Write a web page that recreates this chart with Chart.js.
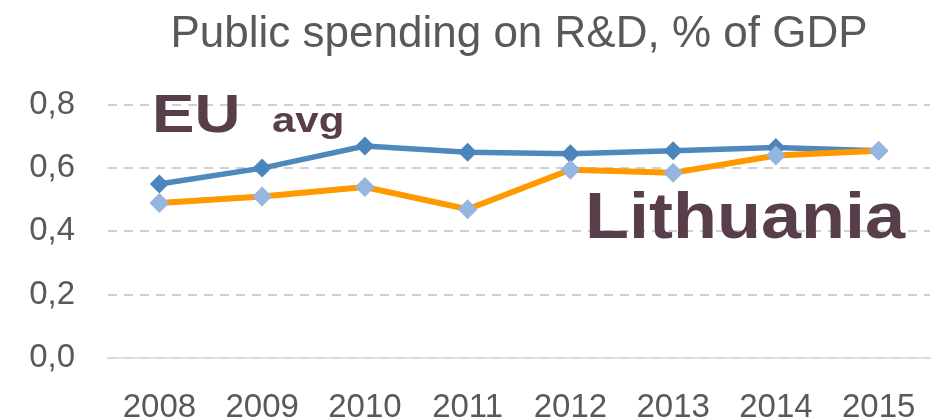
<!DOCTYPE html>
<html>
<head>
<meta charset="utf-8">
<script src="https://cdn.jsdelivr.net/npm/chart.js@4/dist/chart.umd.min.js"></script>
<style>
    html, body { margin: 0; padding: 0; background: #fff; overflow: hidden; }
    #wrap { width: 940px; height: 419px; }
</style>
</head>
<body>
<div id="wrap"><canvas id="myChart" width="940" height="419"></canvas></div>
<script>
const years = ['2008', '2009', '2010', '2011', '2012', '2013', '2014', '2015'];
const euAvg = [0.55, 0.60, 0.67, 0.65, 0.645, 0.655, 0.665, 0.655];
const lithuania = [0.49, 0.51, 0.54, 0.47, 0.595, 0.585, 0.64, 0.655];
const yTicks = [0, 0.2, 0.4, 0.6, 0.8];

const textGray = '#595959';
const noteColor = '#573e4a';

// big labels written on the chart
const notes = [
    { text: 'EU', x: 152, y: 132, size: 53, stretch: 1.2 },
    { text: 'avg', x: 272, y: 132, size: 35, stretch: 1.2 },
    { text: 'Lithuania', x: 585, y: 238, size: 64, stretch: 1.125 }
];

const notePlugin = {
    id: 'notes',
    afterDatasetsDraw(chart) {
        const ctx = chart.ctx;
        notes.forEach(n => {
            ctx.save();
            ctx.translate(n.x, n.y);
            ctx.scale(n.stretch, 1);
            ctx.font = 'bold ' + n.size + 'px "Liberation Sans", Arial, sans-serif';
            ctx.fillStyle = noteColor;
            ctx.textBaseline = 'alphabetic';
            ctx.textAlign = 'left';
            ctx.fillText(n.text, 0, 0);
            ctx.restore();
        });
    }
};

const ctx = document.getElementById('myChart').getContext('2d');
new Chart(ctx, {
    type: 'line',
    data: {
        labels: years,
        datasets: [{
            label: 'Lithuania',
            data: lithuania,
            borderColor: '#ff9900',
            borderWidth: 6,
            pointStyle: 'rectRot',
            pointRadius: 10,
            pointBackgroundColor: '#95b7df',
            pointBorderWidth: 0,
            tension: 0
        }, {
            label: 'EU avg',
            data: euAvg,
            borderColor: '#4e88bc',
            borderWidth: 5.5,
            pointStyle: 'rectRot',
            pointRadius: 9.5,
            pointBackgroundColor: '#4a86bb',
            pointBorderWidth: 0,
            tension: 0
        }]
    },
    options: {
        responsive: false,
        animation: false,
        layout: { padding: 0 },
        plugins: {
            legend: { display: false },
            tooltip: { enabled: false },
            title: {
                display: true,
                text: 'Public spending on R&D, % of GDP',
                color: textGray,
                fullSize: false,
                font: { family: '"Liberation Sans", Arial, sans-serif', size: 44, weight: 'normal' },
                padding: { top: 8, bottom: 44 }
            }
        },
        scales: {
            x: {
                offset: true,
                grid: { display: false },
                border: { display: true, color: '#d9d9d9', width: 1.5 },
                ticks: {
                    color: textGray,
                    padding: 22,
                    maxRotation: 0,
                    font: { family: '"Liberation Sans", Arial, sans-serif', size: 33 }
                },
                afterFit(scale) { scale.height = 61; }
            },
            y: {
                min: 0,
                max: 0.8,
                afterBuildTicks(scale) { scale.ticks = yTicks.map(v => ({ value: v })); },
                border: { display: false, dash: [9, 7] },
                grid: {
                    color: '#d0d0d0',
                    lineWidth: 2,
                    drawTicks: false
                },
                ticks: {
                    color: textGray,
                    padding: 33,
                    font: { family: '"Liberation Sans", Arial, sans-serif', size: 33 },
                    callback: v => v.toFixed(1).replace('.', ',')
                },
                afterFit(scale) { scale.width = 108; }
            }
        }
    },
    plugins: [notePlugin]
});
</script>
</body>
</html>
